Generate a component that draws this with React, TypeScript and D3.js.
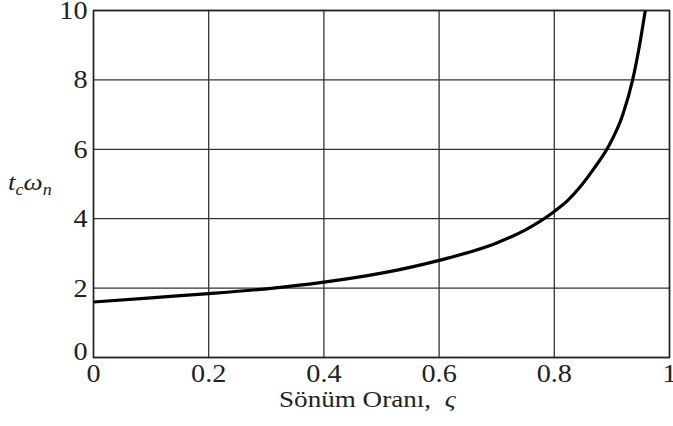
import React from 'react';
import * as d3 from 'd3';

// damping ratio vs. normalised time
const zeta = [0, 0.1, 0.2, 0.3, 0.4, 0.5, 0.6, 0.7, 0.75, 0.8, 0.823, 0.845, 0.869, 0.893, 0.919, 0.936, 0.948, 0.958];
const tcWn = [1.6, 1.72, 1.84, 1.98, 2.17, 2.43, 2.8, 3.3, 3.68, 4.21, 4.52, 4.92, 5.45, 6.05, 7.0, 8.0, 9.0, 10.0];

const xTicks = [0, 0.2, 0.4, 0.6, 0.8, 1];
const xTickLabels = ['0', '0.2', '0.4', '0.6', '0.8', '1'];
const yTicks = [0, 2, 4, 6, 8, 10];

const W = 673;
const H = 426;
const margin = { top: 10.5, right: 3.5, bottom: 68.5, left: 93.5 };
const font = 'Liberation Serif';
const SX = 1.13; // the original type is a little wider than Liberation Serif

const App = () => {
  const x = d3.scaleLinear().domain([0, 1]).range([margin.left, W - margin.right]);
  const y = d3.scaleLinear().domain([0, 10]).range([H - margin.bottom, margin.top]);

  const pts: [number, number][] = zeta.map((z, i) => [z, tcWn[i]]);
  const line = d3.line<[number, number]>()
    .x(d => x(d[0]))
    .y(d => y(d[1]))
    .curve(d3.curveMonotoneX);

  const txt = { fontFamily: font, fill: '#222' };

  return (
    <svg width={W} height={H} style={{ position: 'absolute', left: 0, top: 0, fontFamily: font }}>
      <rect width={W} height={H} fill="#fff" />
      <defs>
        <clipPath id="plot">
          <rect x={x(0)} y={y(10)} width={x(1) - x(0)} height={y(0) - y(10)} />
        </clipPath>
      </defs>

      {/* grid */}
      {xTicks.map(t => (
        <line key={'gx' + t} x1={x(t)} x2={x(t)} y1={y(0)} y2={y(10)} stroke="#333" strokeWidth={1.3} />
      ))}
      {yTicks.map(t => (
        <line key={'gy' + t} x1={x(0)} x2={x(1)} y1={y(t)} y2={y(t)} stroke="#333" strokeWidth={1.3} />
      ))}
      <rect x={x(0)} y={y(10)} width={x(1) - x(0)} height={y(0) - y(10)} fill="none" stroke="#222" strokeWidth={1.5} />

      {/* curve */}
      <path d={line(pts) || ''} fill="none" stroke="#000" strokeWidth={3.2} clipPath="url(#plot)" />

      {/* y tick labels */}
      {yTicks.map(t => (
        <g key={'ty' + t} transform={`translate(${x(0) - 6},${y(t) + (t === 0 ? -6 : 0) + 8.5}) scale(${SX},1)`}>
          <text textAnchor="end" fontSize={25} style={txt}>{t}</text>
        </g>
      ))}
      {/* x tick labels */}
      {xTicks.map((t, i) => (
        <g key={'tx' + t} transform={`translate(${x(t)},${y(0) + 24}) scale(${SX},1)`}>
          <text textAnchor="middle" fontSize={25} style={txt}>{xTickLabels[i]}</text>
        </g>
      ))}

      {/* axis titles */}
      <g transform={`translate(8,190) scale(${SX},1)`}>
        <text fontSize={24} fontStyle="italic" style={txt}>
          t<tspan fontSize={16} dy={5}>c</tspan><tspan dy={-5} fontSize={24}>ω</tspan><tspan fontSize={16} dy={5}>n</tspan>
        </text>
      </g>
      <g transform={`translate(279,407) scale(${SX},1)`}>
        <text fontSize={24} style={txt}>
          Sönüm Oranı,<tspan dx={12} fontStyle="italic">ς</tspan>
        </text>
      </g>
    </svg>
  );
};

export default App;
